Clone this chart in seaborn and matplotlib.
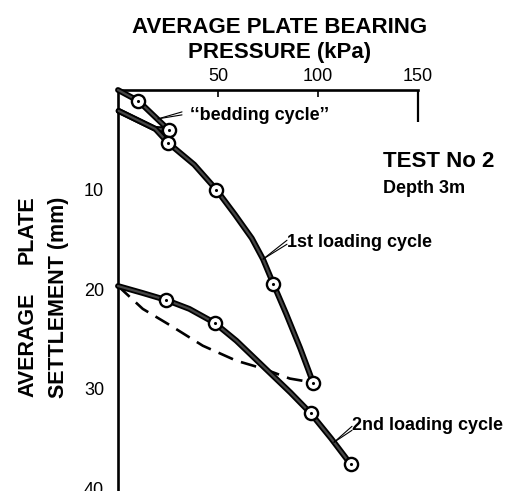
import matplotlib
matplotlib.use("Agg")
import matplotlib.pyplot as plt
import matplotlib.patheffects as pe
import seaborn as sns
import pandas as pd

# ---------------- data ----------------
# pressure (kPa) / settlement (mm)
bedding_x = [0, 10.2, 25.3, 18.6, 0.3]
bedding_y = [0, 1.1, 4.0, 3.9, 2.1]
bedding_mx = [10.2, 25.3]
bedding_my = [1.1, 4.0]

first_x = [0.3, 18.6, 25, 38.1, 49.1, 58.4, 66.9, 72.5, 77.7, 84.1, 91, 95.3, 97.5]
first_y = [2.1, 3.9, 5.3, 7.5, 10.0, 12.5, 14.9, 17.0, 19.5, 22.5, 25.9, 28.2, 29.4]
first_mx = [25, 49.1, 77.7, 97.5]
first_my = [5.3, 10.0, 19.5, 29.4]

second_x = [0, 12.3, 24, 35.7, 48.3, 59.2, 72.7, 86.2, 96.4, 106.5, 116.3]
second_y = [19.7, 20.4, 21.1, 22.0, 23.4, 25.2, 27.8, 30.4, 32.5, 35.0, 37.6]
second_mx = [24, 48.3, 96.4, 116.3]
second_my = [21.1, 23.4, 32.5, 37.6]

unload_x = [0, 12.4, 25.7, 42.4, 59.1, 72.5, 85.9, 97.5]
unload_y = [19.7, 22.0, 23.6, 25.7, 27.2, 28.0, 29.0, 29.4]

x_ticks = [50, 100, 150]
y_ticks = [10, 20, 30, 40]

# ---------------- figure ----------------
sns.set_style("white")
plt.rcParams['font.family'] = ['Liberation Sans', 'DejaVu Sans']
plt.rcParams['text.color'] = 'black'
plt.rcParams['xtick.color'] = 'black'
plt.rcParams['ytick.color'] = 'black'
plt.rcParams['xtick.labelcolor'] = 'black'
plt.rcParams['ytick.labelcolor'] = 'black'

W, H = 508, 491
fig = plt.figure(figsize=(W / 100, H / 100), dpi=100)
fig.patch.set_facecolor('white')
ax = fig.add_axes([118 / W, 0, 300 / W, (H - 90) / H])

curve_style = dict(color='#454545', linewidth=1.6, clip_on=False, zorder=3,
                   solid_joinstyle='round', solid_capstyle='round',
                   path_effects=[pe.Stroke(linewidth=4.2, foreground='black'), pe.Normal()])

def curve(xs, ys):
    df = pd.DataFrame({'x': xs, 'y': ys})
    sns.lineplot(data=df, x='x', y='y', sort=False, estimator=None, ax=ax, **curve_style)

curve(bedding_x, bedding_y)
curve(first_x, first_y)
curve(second_x, second_y)

df_u = pd.DataFrame({'x': unload_x, 'y': unload_y})
sns.lineplot(data=df_u, x='x', y='y', sort=False, estimator=None, ax=ax,
             color='black', linewidth=1.9, linestyle=(0, (6, 3.2)), zorder=2, clip_on=False)

mx = bedding_mx + first_mx + second_mx
my = bedding_my + first_my + second_my
dfm = pd.DataFrame({'x': mx, 'y': my})
sns.scatterplot(data=dfm, x='x', y='y', ax=ax, marker='o', s=90, color='white',
                edgecolor='black', linewidth=1.7, zorder=5, clip_on=False)
sns.scatterplot(data=dfm, x='x', y='y', ax=ax, marker='o', s=5, color='black',
                edgecolor='black', linewidth=0, zorder=6, clip_on=False)

# ---------------- axes ----------------
ax.set_xlim(0, 150)
ax.set_ylim(40.3, 0)
ax.set_xlabel('')
ax.set_ylabel('')
sns.despine(ax=ax, top=False, right=True, left=False, bottom=True)
for s in ('top', 'left'):
    ax.spines[s].set_linewidth(1.9)
    ax.spines[s].set_color('black')

ax.xaxis.tick_top()
ax.set_xticks(x_ticks)
ax.set_xticklabels([str(v) for v in x_ticks])
ax.tick_params(axis='x', direction='in', length=5, width=1.2, pad=3.5,
               labelsize=13, colors='black')
xt = ax.xaxis.get_major_ticks()
xt[-1].tick2line.set_markersize(23)
xt[-1].tick2line.set_markeredgewidth(1.6)

ax.set_yticks(y_ticks)
ax.set_yticklabels([str(v) for v in y_ticks])
ax.tick_params(axis='y', direction='in', length=25, width=0.8, pad=10,
               labelsize=13, colors='black')

# ---------------- texts ----------------
def px(x, y):
    return x / W, 1 - y / H

fig.text(*px(280, 33), 'AVERAGE PLATE BEARING', ha='center', va='baseline',
         fontsize=16, fontweight='bold', color='black')
fig.text(*px(280, 58), 'PRESSURE (kPa)', ha='center', va='baseline',
         fontsize=16, fontweight='bold', color='black')

fig.text(*px(33, 397), 'AVERAGE', rotation=90, rotation_mode='anchor',
         ha='left', va='baseline', fontsize=15.5, fontweight='bold', color='black')
fig.text(*px(33, 195), 'PLATE', rotation=90, rotation_mode='anchor',
         ha='right', va='baseline', fontsize=15.5, fontweight='bold', color='black')
fig.text(*px(64, 297), 'SETTLEMENT (mm)', rotation=90, rotation_mode='anchor',
         ha='center', va='baseline', fontsize=15.5, fontweight='bold', color='black')

fig.text(*px(383, 167), 'TEST No 2', ha='left', va='baseline', fontsize=16,
         fontweight='bold', color='black')
fig.text(*px(383, 193), 'Depth 3m', ha='left', va='baseline', fontsize=13,
         fontweight='bold', color='black')

fig.text(*px(190, 120), '\u2018\u2018bedding cycle\u2019\u2019', ha='left', va='baseline',
         fontsize=13, fontweight='bold', color='black')
fig.text(*px(287, 247), '1st loading cycle', ha='left', va='baseline',
         fontsize=13, fontweight='bold', color='black')
fig.text(*px(352, 430), '2nd loading cycle', ha='left', va='baseline',
         fontsize=13, fontweight='bold', color='black')

# leader lines (double thin strokes)
leaders = [((20, 2.9), [(32, 2.2), (32, 2.5)]),
           ((72.5, 17.0), [(84.5, 15.1), (84.5, 15.5)]),
           ((108, 35.4), [(117, 33.8), (117, 34.2)])]
for start, ends in leaders:
    for end in ends:
        ax.annotate('', xy=start, xytext=end, xycoords='data', textcoords='data',
                    annotation_clip=False,
                    arrowprops=dict(arrowstyle='-', lw=0.8, color='black',
                                    shrinkA=0, shrinkB=0))

fig.savefig('out.png', dpi=100, facecolor='white')
